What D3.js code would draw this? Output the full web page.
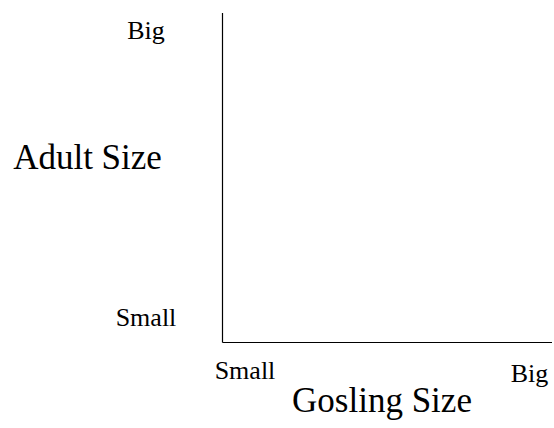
<!DOCTYPE html>
<html>
<head>
<meta charset="utf-8">
<script src="https://cdn.jsdelivr.net/npm/d3@7"></script>
<style>
  html, body { margin: 0; padding: 0; background: #fff; }
  text { font-family: "Liberation Serif", "Times New Roman", serif; fill: #000; }
</style>
</head>
<body>
<div id="chart"></div>
<script>
// categories on each axis
const xCategories = ["Small", "Big"];
const yCategories = ["Small", "Big"];
const xTitle = "Gosling Size";
const yTitle = "Adult Size";

const width = 554, height = 428;

const svg = d3.select("#chart").append("svg")
  .attr("width", width)
  .attr("height", height);

// plot frame
const plot = { left: 222.5, right: 552, top: 13, bottom: 342.5 };

// tick label positions
const xScale = d3.scalePoint().domain(xCategories).range([245, 529.5]);
const yScale = d3.scalePoint().domain(yCategories).range([326, 39]);

// axis lines (no ticks)
svg.append("line")
  .attr("x1", plot.left).attr("x2", plot.left)
  .attr("y1", plot.top).attr("y2", plot.bottom)
  .attr("stroke", "#000").attr("stroke-width", 1.2);

svg.append("line")
  .attr("x1", plot.left).attr("x2", plot.right)
  .attr("y1", plot.bottom).attr("y2", plot.bottom)
  .attr("stroke", "#000").attr("stroke-width", 1.2);

// x tick labels (the "Big" one sits a little lower)
svg.selectAll(".xlab")
  .data(xCategories)
  .enter().append("text")
  .attr("class", "xlab")
  .attr("x", d => xScale(d))
  .attr("y", (d, i) => i === 0 ? 379 : 382)
  .attr("text-anchor", "middle")
  .attr("font-size", 26)
  .text(d => d);

// y tick labels
svg.selectAll(".ylab")
  .data(yCategories)
  .enter().append("text")
  .attr("class", "ylab")
  .attr("x", 146)
  .attr("y", d => yScale(d))
  .attr("text-anchor", "middle")
  .attr("font-size", 26)
  .text(d => d);

// axis titles
svg.append("text")
  .attr("x", 382)
  .attr("y", 411.5)
  .attr("text-anchor", "middle")
  .attr("font-size", 35)
  .text(xTitle);

svg.append("text")
  .attr("x", 87.5)
  .attr("y", 169)
  .attr("text-anchor", "middle")
  .attr("font-size", 35)
  .text(yTitle);
</script>
</body>
</html>
